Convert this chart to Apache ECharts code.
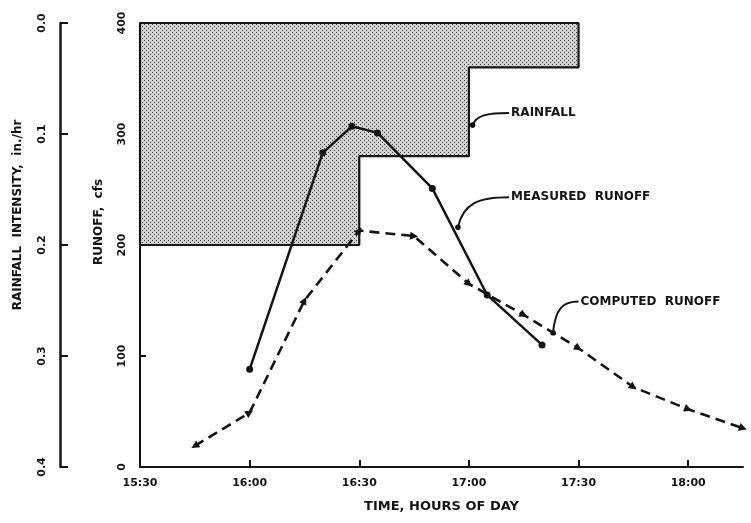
<!DOCTYPE html>
<html lang="en" style="height: 100%">
<head>
  <meta charset="utf-8">
</head>
<body style="height: 100%; margin: 0; background: #fff">
  <div id="container" style="width: 751px; height: 523px"></div>

  <script type="text/javascript" src="https://cdn.jsdelivr.net/npm/echarts@6/dist/echarts.min.js"></script>
  <script type="text/javascript">
    // times are minutes of the day (15:30 = 930)
    var measuredTimes = [960, 980, 988, 995, 1010, 1025, 1040];
    var measuredRunoff = [88, 283, 307, 301, 251, 155, 110];
    var computedTimes = [945, 960, 975, 990, 1005, 1020, 1035, 1050, 1065, 1080, 1095];
    var computedRunoff = [19, 49, 150, 213, 208, 165, 137, 107, 72, 52, 35];
    // rainfall blocks (in./hr)
    var rainStart = [930, 990, 1020];
    var rainEnd = [990, 1020, 1050];
    var rainIntensity = [0.20, 0.12, 0.04];

    var ink = '#141414';
    var font = 'DejaVu Sans';

    function pairs(xs, ys) {
      return xs.map(function (x, i) { return [x, ys[i]]; });
    }
    function fmtTime(v) {
      var h = Math.floor(v / 60), m = v % 60;
      return h + ':' + (m < 10 ? '0' : '') + m;
    }

    // rainfall hyetograph outline (closed) and fill
    var rainFill = [[rainStart[0], 0]];
    rainStart.forEach(function (s, i) {
      rainFill.push([s, rainIntensity[i]], [rainEnd[i], rainIntensity[i]]);
    });
    rainFill.push([rainEnd[rainEnd.length - 1], 0]);
    var rainOutline = rainFill.concat([[rainStart[0], 0]]);

    // stipple pattern for rainfall area
    var pat = document.createElement('canvas');
    pat.width = 4; pat.height = 4;
    var pc = pat.getContext('2d');
    pc.fillStyle = '#d2d2d2';
    pc.fillRect(0, 0, 4, 4);
    pc.fillStyle = '#3c3c3c';
    pc.fillRect(0, 0, 1, 1);
    pc.fillRect(2, 2, 1, 1);

    var dom = document.getElementById('container');
    var myChart = echarts.init(dom, null, { renderer: 'canvas' });

    var labelStyle = { color: ink, fontFamily: font, fontWeight: 'bold', fontSize: 11 };

    var option = {
      animation: false,
      backgroundColor: '#fff',
      grid: { left: 140, right: 8, top: 23, bottom: 56, containLabel: false },
      xAxis: {
        type: 'value', min: 930, max: 1095, interval: 30,
        axisLine: { lineStyle: { color: ink, width: 2 } },
        axisTick: { inside: true, length: 7, lineStyle: { color: ink, width: 2 } },
        axisLabel: Object.assign({ margin: 11, showMaxLabel: false, formatter: fmtTime }, labelStyle),
        splitLine: { show: false },
        name: 'TIME, HOURS OF DAY', nameLocation: 'middle', nameGap: 33,
        nameTextStyle: { color: ink, fontFamily: font, fontWeight: 'bold', fontSize: 13 }
      },
      yAxis: [
        {
          type: 'value', min: 0, max: 400, interval: 100, position: 'left',
          axisLine: { show: true, lineStyle: { color: ink, width: 2 } },
          axisTick: { show: true, inside: true, length: 6, lineStyle: { color: ink, width: 2 } },
          axisLabel: Object.assign({ rotate: 90, margin: 12 }, labelStyle),
          splitLine: { show: false }
        },
        {
          type: 'value', min: 0, max: 0.4, interval: 0.1, inverse: true,
          position: 'left', offset: 80,
          axisLine: { show: true, lineStyle: { color: ink, width: 2.5 } },
          axisTick: { show: true, inside: true, length: 8, lineStyle: { color: ink, width: 2 } },
          axisLabel: Object.assign({ rotate: 90, margin: 12, formatter: function (v) { return v.toFixed(1); } }, labelStyle),
          splitLine: { show: false }
        }
      ],
      series: [
        {
          name: 'rain fill', type: 'line', yAxisIndex: 1, data: rainFill,
          symbol: 'none', lineStyle: { width: 0 }, z: 1,
          areaStyle: { origin: 'start', opacity: 1, color: { image: pat, repeat: 'repeat' } }
        },
        {
          name: 'rain outline', type: 'line', yAxisIndex: 1, data: rainOutline,
          symbol: 'none', lineStyle: { color: ink, width: 2.2 }, z: 2
        },
        {
          name: 'Measured runoff', type: 'line', data: pairs(measuredTimes, measuredRunoff),
          symbol: 'circle', symbolSize: 7, itemStyle: { color: ink },
          lineStyle: { color: ink, width: 2.5 }, z: 4
        },
        {
          name: 'Computed runoff', type: 'line', data: pairs(computedTimes, computedRunoff),
          symbol: 'triangle', symbolSize: 8, itemStyle: { color: ink },
          lineStyle: { color: ink, width: 2.6, type: [10, 6] }, z: 3
        }
      ]
    };
    myChart.setOption(option);

    // point the computed-runoff triangles along the curve, like arrowheads
    var cpx = pairs(computedTimes, computedRunoff).map(function (d) {
      return myChart.convertToPixel({ gridIndex: 0 }, d);
    });
    var computedItems = computedTimes.map(function (t, i) {
      var a = cpx[Math.max(i - 1, 0)], b = cpx[i];
      if (i === 0) { a = cpx[0]; b = cpx[1]; }
      var ang = Math.atan2(a[1] - b[1], b[0] - a[0]) * 180 / Math.PI;
      if (i === 0) ang += 180;
      return { value: [t, computedRunoff[i]], symbolRotate: ang - 90 };
    });

    // callouts: start on the curve, label at the end (data coords: minutes, cfs)
    var callouts = [
      { text: 'RAINFALL', from: [1021, 308], to: [1031, 319] },
      { text: 'MEASURED  RUNOFF', from: [1017, 216], to: [1031, 243] },
      { text: 'COMPUTED  RUNOFF', from: [1043, 121], to: [1050, 149] }
    ];
    var graphics = [];
    callouts.forEach(function (c) {
      var p1 = myChart.convertToPixel({ gridIndex: 0 }, c.from);
      var p2 = myChart.convertToPixel({ gridIndex: 0 }, c.to);
      var dx = p2[0] - p1[0], dy = p1[1] - p2[1];
      graphics.push({
        type: 'bezierCurve', z: 10,
        shape: { x1: p1[0], y1: p1[1], cpx1: p1[0] + 0.1 * dx, cpy1: p1[1] - 0.8 * dy,
                 cpx2: p1[0] + 0.4 * dx, cpy2: p2[1], x2: p2[0], y2: p2[1] },
        style: { stroke: ink, lineWidth: 2, fill: null }
      });
      graphics.push({
        type: 'circle', z: 10, shape: { cx: p1[0], cy: p1[1], r: 2.8 },
        style: { fill: ink }
      });
      graphics.push({
        type: 'text', z: 10, x: p2[0] + 2, y: p2[1],
        style: { text: c.text, fill: ink, font: 'bold 12px "DejaVu Sans"',
                 textAlign: 'left', textVerticalAlign: 'middle' }
      });
    });
    // axis titles
    graphics.push({
      type: 'text', x: 18, y: 215, rotation: Math.PI / 2,
      style: { text: 'RAINFALL  INTENSITY,  in./hr', fill: ink, font: 'bold 12px "DejaVu Sans"',
               textAlign: 'center', textVerticalAlign: 'middle' }
    });
    graphics.push({
      type: 'text', x: 99, y: 222, rotation: Math.PI / 2,
      style: { text: 'RUNOFF,  cfs', fill: ink, font: 'bold 12px "DejaVu Sans"',
               textAlign: 'center', textVerticalAlign: 'middle' }
    });
    myChart.setOption({ graphic: graphics, series: [{}, {}, {}, { data: computedItems }] });

    window.addEventListener('resize', myChart.resize);
  </script>
</body>
</html>
